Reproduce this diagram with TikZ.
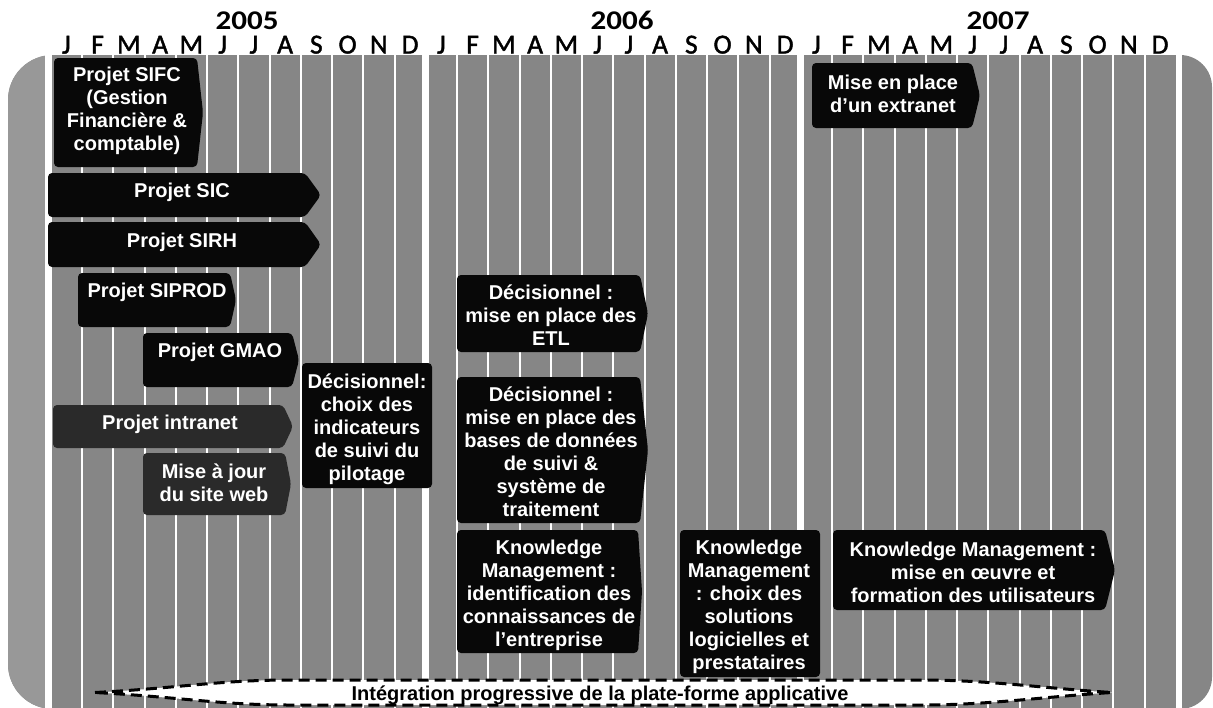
\documentclass[tikz,border=0pt]{standalone}
\usepackage{fontspec}
\setmainfont{Liberation Sans}
\newfontfamily\monthfont[FakeBold=1.5]{Carlito}
\newfontfamily\yearfont[FakeStretch=1.15]{Carlito}
\definecolor{panelgray}{RGB}{134,134,134}
\definecolor{stripgray}{RGB}{152,152,152}
\definecolor{boxblack}{RGB}{8,8,8}
\definecolor{boxdark}{RGB}{42,42,42}
\tikzset{
  panel/.style={fill=panelgray},
  sep/.style={draw=white, line width=2pt},
  yearsep/.style={draw=white, line width=7pt},
  blackbox/.style={fill=boxblack, rounded corners=4pt},
  darkbox/.style={fill=boxdark, rounded corners=4pt},
  boxtext/.style={text=white, font=\bfseries\fontsize{20}{23}\selectfont, align=center, inner sep=0pt},
  month/.style={font=\monthfont\fontsize{27.5}{27.5}\selectfont, anchor=base, inner sep=0pt},
  yearlabel/.style={font=\yearfont\bfseries\fontsize{27}{27}\selectfont, anchor=base, inner sep=0pt},
  bandline/.style={draw=black, line width=3pt, dash pattern=on 11pt off 6pt},
  bandtext/.style={font=\bfseries\fontsize{20}{23}\selectfont, anchor=base, inner sep=0pt},
}
% task bar: fill style, left, top, right, tip, bottom
\newcommand{\taskbar}[6]{%
  \fill[#1] (#2,#3) -- (#4,#3) -- (#5,{(#3+#6)/2}) -- (#4,#6) -- (#2,#6) -- cycle;}
\begin{document}
\begin{tikzpicture}[x=1pt,y=-1pt]
\useasboundingbox (0,0) rectangle (1213,707);

% timeline panel with rounded ends
\fill[panel, rounded corners=45pt] (8,55) rectangle (700,709);
\fill[panel, rounded corners=32pt] (600,55) rectangle (1212,709);
\begin{scope}
  \clip[rounded corners=45pt] (8,55) rectangle (700,709);
  \fill[stripgray] (0,50) rectangle (45,715);
\end{scope}

% month and year separators
\foreach \k in {1,...,35} \draw[sep] ({50.75+31.25*\k},52) -- ({50.75+31.25*\k},712);
\foreach \k in {12,24} \draw[yearsep] ({50.75+31.25*\k},52) -- ({50.75+31.25*\k},712);
\fill[white] (45,50) rectangle (52,712);
\fill[white] (1176,50) rectangle (1182,712);

% calendar header
\node[yearlabel] (y2005) at (247,29) {2005};
\node[yearlabel] (y2006) at (622,29) {2006};
\node[yearlabel] (y2007) at (998,29) {2007};
\foreach \yr in {0,1,2} {
  \foreach \m [count=\i from 0] in {J,F,M,A,M,J,J,A,S,O,N,D} {
    \node[month] (m\yr-\i) at ({50.75+31.25*(12*\yr+\i)+15.6},53.5) {\m};
  }
}

% project bars
\taskbar{blackbox}{54}{58}{197}{203}{167}
\node[boxtext] (sifc) at (127,111) {Projet SIFC\\(Gestion\\Financière \&\\comptable)};
\taskbar{blackbox}{48}{173}{305}{321}{217}
\node[boxtext] (sic) at (182,192) {Projet SIC};
\taskbar{blackbox}{48}{222}{305}{321}{267}
\node[boxtext] (sirh) at (182,242) {Projet SIRH};
\taskbar{blackbox}{78}{273}{230}{236}{327}
\node[boxtext] (siprod) at (157,292) {Projet SIPROD};
\taskbar{blackbox}{143}{333}{292}{299}{387}
\node[boxtext] (gmao) at (220,352) {Projet GMAO};
\taskbar{darkbox}{53}{405}{283}{293}{448}
\node[boxtext] (intranet) at (170,424) {Projet intranet};
\taskbar{darkbox}{143}{453}{285}{291}{515}
\node[boxtext] (web) at (214,482.5) {Mise à jour\\du site web};
\taskbar{blackbox}{302}{363}{432}{432}{488}
\node[boxtext] (choix) at (367,429) {Décisionnel:\\choix des\\indicateurs\\de suivi du\\pilotage};
\taskbar{blackbox}{457}{275}{640}{648}{352}
\node[boxtext] (etl) at (551,315.5) {Décisionnel :\\mise en place des\\ETL};
\taskbar{blackbox}{457}{377}{640}{648}{523}
\node[boxtext] (bases) at (551,452) {Décisionnel :\\mise en place des\\bases de données\\de suivi \&\\système de\\traitement};
\taskbar{blackbox}{457}{530}{638}{642}{653}
\node[boxtext] (km1) at (549,595) {Knowledge\\Management :\\identification des\\connaissances de\\l’entreprise};
\taskbar{blackbox}{680}{530}{820}{820}{677}
\node[boxtext] (km2) at (749,606.5) {Knowledge\\Management\\: choix des\\solutions\\logicielles et\\prestataires};
\taskbar{blackbox}{833}{530}{1105}{1115}{610}
\node[boxtext] (km3) at (973,572) {Knowledge Management :\\mise en œuvre et\\formation des utilisateurs};
\taskbar{blackbox}{812}{63}{972}{980}{128}
\node[boxtext] (extranet) at (893,93.5) {Mise en place\\d'un extranet};

% integration band
\path[fill=white, bandline]
  (95,692.5) .. controls (180,688) and (220,680) .. (290,680)
  -- (920,680) .. controls (990,680) and (1040,688) .. (1112,692.5)
  .. controls (1040,697) and (990,705) .. (920,705)
  -- (290,705) .. controls (220,705) and (180,697) .. (95,692.5) -- cycle;
\node[bandtext] (band) at (600,700) {Intégration progressive de la plate-forme applicative};
\end{tikzpicture}
\end{document}
